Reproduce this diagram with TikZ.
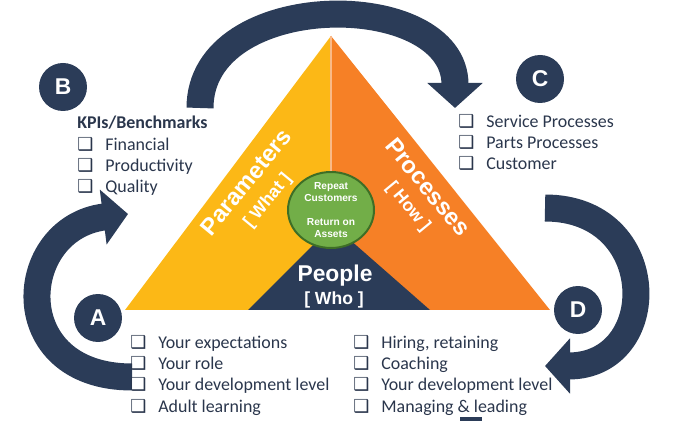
\documentclass[tikz,border=0pt]{standalone}
\usepackage{fontspec}
\setmainfont{Carlito}
\newfontfamily\arialfont{Liberation Sans}
\newfontfamily\symfont{DejaVu Sans}
\usepackage{xcolor}
\definecolor{darknavy}{RGB}{43,60,88}
\definecolor{textnavy}{RGB}{42,54,76}
\definecolor{paramyellow}{RGB}{252,184,22}
\definecolor{procorange}{RGB}{246,128,38}
\definecolor{hubgreen}{RGB}{114,174,72}
\definecolor{hubgreendark}{RGB}{62,110,38}
\usepackage{tikz}
\usetikzlibrary{shapes.geometric,arrows.meta,positioning}
\newcommand{\chkbox}[1]{\makebox[0.56cm][l]{{\symfont\bfseries ❑}}#1}

\begin{document}
\begin{tikzpicture}[x=0.02cm,y=-0.02cm]
  \tikzstyle{letter}=[circle,fill=darknavy,minimum size=0.96cm,inner sep=0pt,text=white,font=\arialfont\bfseries\fontsize{13}{13}\selectfont]
  \tikzstyle{checklist}=[anchor=north west,inner sep=0pt,align=left,text=textnavy,font=\fontsize{10.2}{12.1}\selectfont]
  \tikzstyle{bigarrow}=[draw=darknavy,line width=0.54cm,-{Triangle[length=0.5cm,width=1.08cm]}]
  \tikzstyle{sidetitle}=[text=white,inner sep=0pt,font=\arialfont\bfseries\fontsize{13.5}{14}\selectfont]
  \tikzstyle{sidesub}=[text=white,inner sep=0pt,font=\arialfont\bfseries\fontsize{10}{11}\selectfont]
  \useasboundingbox (0,0) rectangle (695,421);

  % triangle corners
  \coordinate (apex) at (331,36);
  \coordinate (baseL) at (125,310);
  \coordinate (baseR) at (550,310);
  \coordinate (baseM) at (331,310);
  \coordinate (whoL) at (248,310);
  \coordinate (whoR) at (430,310);
  \coordinate (whoT) at (333,225);

  \fill[paramyellow] (baseL) -- (apex) -- (baseM) -- cycle;
  \fill[procorange] (apex) -- (baseR) -- (baseM) -- cycle;
  \draw[procorange!55!white,line width=0.05cm] (apex) -- (331,200);
  \fill[darknavy] (whoL) -- (whoT) -- (whoR) -- cycle;

  \node[ellipse,draw=hubgreendark,line width=0.04cm,fill=hubgreen,minimum width=1.72cm,minimum height=1.52cm] (hub) at (331,210) {};
  \node[text=white,align=center,font=\arialfont\bfseries\fontsize{5.8}{6.8}\selectfont] (hubtext) at (hub) {Repeat\\Customers\\[7pt]Return on\\Assets};

  \node[sidetitle,rotate=50.6] (param) at (246,182) {Parameters};
  \node[sidesub,rotate=50.6] (paramsub) at (268,201) {[ What ]};
  \node[sidetitle,rotate=-50.5] (proc) at (428,187) {Processes};
  \node[sidesub,rotate=-50.5] (procsub) at (408,207) {[ How ]};
  \node[text=white,font=\arialfont\bfseries\fontsize{13}{13}\selectfont] (people) at (335,276) {People};
  \node[sidesub] (peoplesub) at (334,300) {[ Who ]};

  % curved arrows
  \coordinate (topS) at (200,108);
  \coordinate (topE) at (455,108);
  \draw[bigarrow] (topS) .. controls (200,-13) and (455,-13) .. (topE);
  \coordinate (loopAS) at (132,377);
  \coordinate (loopAE) at (128,214);
  \draw[bigarrow] (loopAS) .. controls (5,377) and (15,228) .. (loopAE);
  \coordinate (loopDS) at (545,208);
  \coordinate (loopDE) at (545,366);
  \draw[bigarrow] (loopDS) .. controls (662,208) and (662,366) .. (loopDE);

  \node[letter] (circB) at (63,87) {B};
  \node[letter] (circC) at (540,79) {C};
  \node[letter] (circA) at (98,318) {A};
  \node[letter] (circD) at (578,310) {D};

  \node[checklist] (listB) at (77,116) {\textbf{KPIs/Benchmarks}\\\chkbox{Financial}\\\chkbox{Productivity}\\\chkbox{Quality}};
  \node[checklist] (listC) at (458,114) {\chkbox{Service Processes}\\\chkbox{Parts Processes}\\\chkbox{Customer}};
  \node[checklist] (listA) at (130,335) {\chkbox{Your expectations}\\\chkbox{Your role}\\\chkbox{Your development level}\\\chkbox{Adult learning}};
  \node[checklist] (listD) at (353,335) {\chkbox{Hiring, retaining}\\\chkbox{Coaching}\\\chkbox{Your development level}\\\chkbox{Managing \& leading}};

  \fill[darknavy] (460,417) rectangle (482,421);
\end{tikzpicture}
\end{document}
